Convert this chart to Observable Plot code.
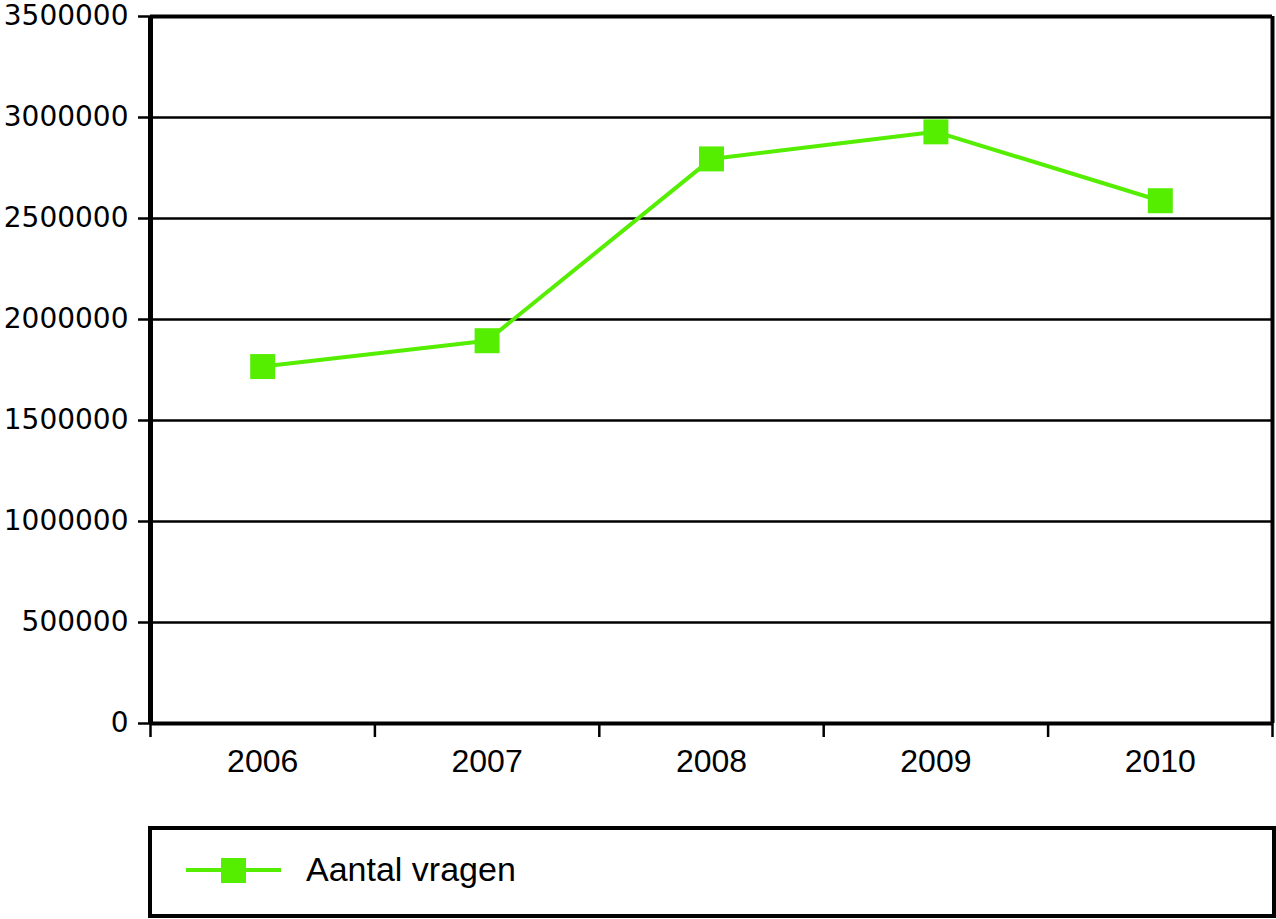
<!DOCTYPE html>
<html><head><meta charset="utf-8">
<script src="https://cdn.jsdelivr.net/npm/d3@7"></script>
<script src="https://cdn.jsdelivr.net/npm/@observablehq/plot@0.6"></script>
<style>
html,body{margin:0;padding:0;background:#fff;overflow:hidden}
#wrap{position:relative;width:1276px;height:919px;font-family:"Liberation Sans",Arial,sans-serif}
#legend{position:absolute;left:148px;top:826px;width:1128px;height:92px;border:4px solid #000;box-sizing:border-box;background:#fff}
#legend .ln{position:absolute;left:34px;top:38px;width:95px;height:4px}
#legend .sq{position:absolute;left:69px;top:27.5px;width:25px;height:25px}
#legend .tx{position:absolute;left:154px;top:22px;font-size:34px;line-height:34px;color:#000;white-space:nowrap}
</style></head><body>
<div id="wrap"><div id="chart"></div>
<div id="legend"><div class="ln"></div><div class="sq"></div><div class="tx"></div></div></div>
<script>
const years = [2006, 2007, 2008, 2009, 2010];
const values = [1767000, 1895000, 2795000, 2929000, 2588000];
const yTicks = [0, 500000, 1000000, 1500000, 2000000, 2500000, 3000000, 3500000];
const seriesName = "Aantal vragen";
const seriesColor = "#55ee00";

const data = years.map((year, i) => ({year, value: values[i]}));
const bounds = years.map(y => y - 0.5).concat([years[years.length - 1] + 0.5]);
const yMax = yTicks[yTicks.length - 1];

const chart = Plot.plot({
  width: 1276, height: 800,
  marginLeft: 150, marginRight: 4, marginTop: 16, marginBottom: 77,
  x: {domain: [bounds[0], bounds[bounds.length - 1]]},
  y: {domain: [0, yMax]},
  style: {fontFamily: '"Liberation Sans", Arial, sans-serif', fontSize: "32px", color: "#000", background: "#fff", overflow: "visible"},
  marks: [
    Plot.ruleY(yTicks.filter(d => d > 0 && d < yMax), {stroke: "#000", strokeWidth: 2.5}),
    Plot.ruleY([yMax], {stroke: "#000", strokeWidth: 4}),
    Plot.ruleY([0], {stroke: "#000", strokeWidth: 4}),
    Plot.ruleX([bounds[0]], {stroke: "#000", strokeWidth: 5}),
    Plot.ruleX([bounds[bounds.length - 1]], {stroke: "#000", strokeWidth: 4}),
    Plot.axisY({ticks: yTicks, tickFormat: d => String(d), tickSize: 12, tickPadding: 10, strokeWidth: 2.5, label: null, fontSize: 28, fontFamily: '"DejaVu Sans", sans-serif'}),
    Plot.axisX({ticks: bounds, tickFormat: () => "", tickSize: 14, strokeWidth: 2.5, label: null}),
    Plot.axisX({ticks: years, tickFormat: d => String(d), tickSize: 0, tickPadding: 26, label: null, fontSize: 32}),
    Plot.line(data, {x: "year", y: "value", stroke: seriesColor, strokeWidth: 4}),
    Plot.dot(data, {x: "year", y: "value", symbol: "square", fill: seriesColor, stroke: null, r: 14.1})
  ]
});
document.getElementById("chart").appendChild(chart);
document.querySelector("#legend .ln").style.background = seriesColor;
document.querySelector("#legend .sq").style.background = seriesColor;
document.querySelector("#legend .tx").textContent = seriesName;
</script>
</body></html>
